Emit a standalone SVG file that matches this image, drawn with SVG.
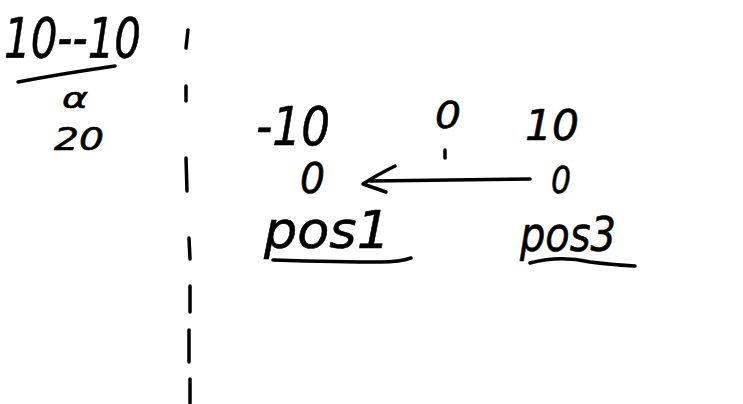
<svg xmlns="http://www.w3.org/2000/svg" width="743" height="404" viewBox="0 0 743 404">
<style>
.t{font-family:"DejaVu Sans","Liberation Sans",sans-serif;font-style:oblique;fill:#000;stroke:#000;stroke-width:0.6}
.s{fill:none;stroke:#000;stroke-width:3.5;stroke-linecap:round;stroke-linejoin:round}
</style>
<rect width="743" height="404" fill="#fff"/>
<g id="formula">
<text class="t" x="4" y="57" font-size="56" textLength="137" lengthAdjust="spacingAndGlyphs">10--10</text>
<path class="s" d="M18 82 Q60 74 115 66"/>
<text class="t" x="62" y="108" font-size="28" textLength="26" lengthAdjust="spacingAndGlyphs">α</text>
<text class="t" x="54" y="150" font-size="32" textLength="50" lengthAdjust="spacingAndGlyphs">20</text>
</g>
<g id="divider">
<path class="s" d="M188 30 L186 48 M186 86 L186 101 M186 158 L187 191 M189 238 L190 259 M190 286 L190 312 M189 330 L189 362 M190 379 L190 403"/>
</g>
<g id="pos1">
<text class="t" x="256" y="145" font-size="54" textLength="74" lengthAdjust="spacingAndGlyphs">-10</text>
<text class="t" x="300" y="193" font-size="42" textLength="25" lengthAdjust="spacingAndGlyphs">0</text>
<text class="t" x="264" y="248" font-size="52" textLength="126" lengthAdjust="spacingAndGlyphs">pos1</text>
<path class="s" d="M273 260 Q340 262 380 262 Q400 262 411 258"/>
</g>
<g id="mid">
<text class="t" x="435" y="128" font-size="38" textLength="26" lengthAdjust="spacingAndGlyphs">0</text>
<path class="s" d="M445 150 L445 158"/>
</g>
<g id="pos3">
<text class="t" x="525" y="140" font-size="42" textLength="54" lengthAdjust="spacingAndGlyphs">10</text>
<text class="t" x="551" y="193" font-size="38" textLength="20" lengthAdjust="spacingAndGlyphs">0</text>
<text class="t" x="520" y="251" font-size="48" textLength="96" lengthAdjust="spacingAndGlyphs">pos3</text>
<path class="s" d="M530 263 Q560 255 590 262 Q615 265 635 266"/>
</g>
<g id="connectors">
<path class="s" d="M530 179 L370 181"/>
<path class="s" d="M395 166 Q375 176 363 184 L386 192"/>
</g>
</svg>
